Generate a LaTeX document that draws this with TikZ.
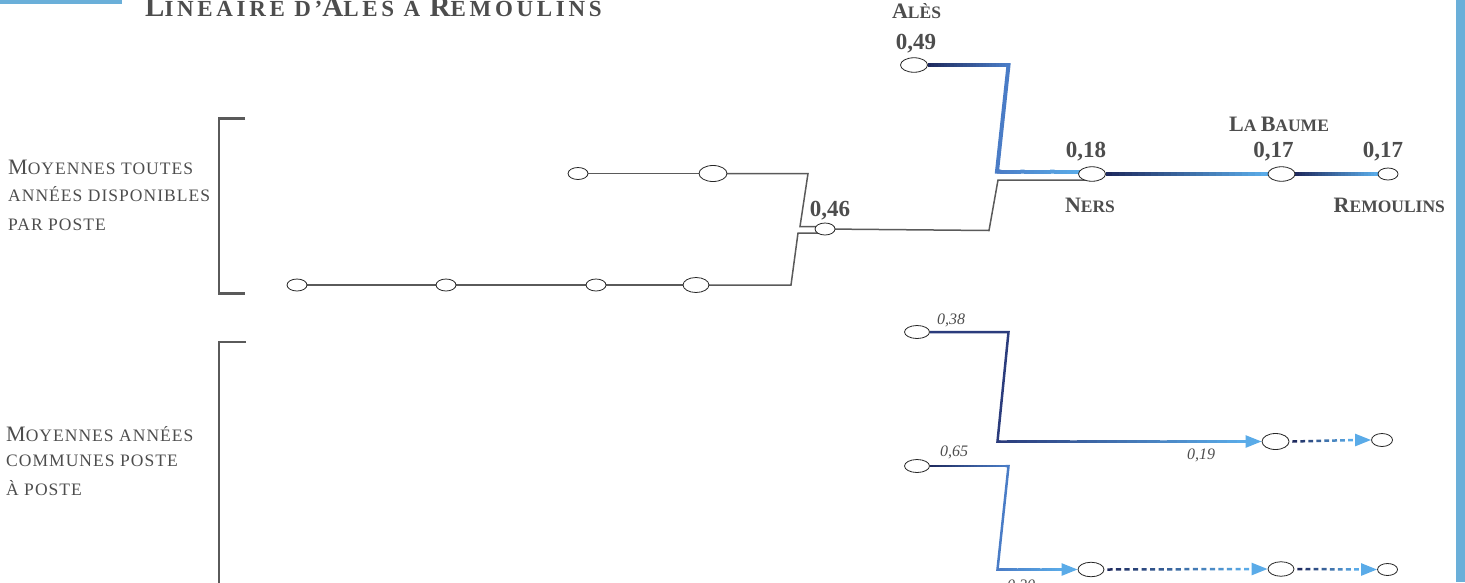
\documentclass[tikz,border=0pt]{standalone}
\usepackage{fontspec}
\usepackage{graphicx}
\setmainfont{Liberation Serif}
\newfontfamily\widefam[LetterSpace=6]{Liberation Serif}
\newfontfamily\titlefam[LetterSpace=16]{Liberation Serif}
\usetikzlibrary{shapes.geometric,calc,arrows.meta}
\definecolor{navy}{HTML}{1E2A5E}
\definecolor{navyb}{HTML}{2B3C7C}
\definecolor{midb}{HTML}{4A7CC6}
\definecolor{lightb}{HTML}{5AABE8}
\definecolor{barb}{HTML}{6AAFD9}
\definecolor{txt}{HTML}{4D4D4D}
\definecolor{lnk}{HTML}{5A5A5A}
\pgfdeclarelayer{bg}\pgfsetlayers{bg,main}
% fake small caps
\newcommand\Rsc[2]{{\widefam\fontsize{22}{24}\selectfont #1\fontsize{17.5}{20}\selectfont #2}}
\newcommand\Bsc[2]{{\bfseries\fontsize{22}{24}\selectfont #1\fontsize{17.5}{20}\selectfont #2}}
\newcommand\Tsc[2]{{\titlefam\bfseries\fontsize{29}{31}\selectfont #1\fontsize{23}{25}\selectfont #2}}
% gradient solid line
\newcommand\gline[5]{%
  \foreach \i in {0,...,24}{%
    \pgfmathsetmacro\ta{\i/25}%
    \pgfmathsetmacro\tb{min(1,(\i+1.3)/25)}%
    \pgfmathtruncatemacro\pc{100-\i*100/24}%
    \draw[line width=#5,#3!\pc!#4] ($(#1)!\ta!(#2)$) -- ($(#1)!\tb!(#2)$);
  }}
% gradient dashed line with arrow
\newcommand\gdash[5]{%
  \coordinate (gdA) at ($(#1)+(3,0)$);
  \coordinate (gdB) at ($(#2)+(-15,0)$);
  \foreach \i in {1,...,#5}{%
    \pgfmathsetmacro\ta{(\i-1)/#5}%
    \pgfmathsetmacro\tb{(\i-0.4)/#5}%
    \pgfmathtruncatemacro\pc{100-(\i-1)*100/(#5-1)}%
    \draw[line width=2.5pt,#3!\pc!#4] ($(gdA)!\ta!(gdB)$) -- ($(gdA)!\tb!(gdB)$);
  }
  \draw[#4,line width=2.5pt,-{Triangle[length=16pt,width=12pt]}] ($(gdB)+(-1,0)$) -- (#2);}
\begin{document}
\begin{tikzpicture}[x=1pt,y=-1pt,
  ov/.style={ellipse,draw=black!85,line width=0.8pt,fill=white,inner sep=0pt,minimum width=27pt,minimum height=14.5pt},
  ovs/.style={ov,minimum width=20pt,minimum height=12pt},
  glink/.style={draw=lnk,line width=1.5pt},
  brk/.style={draw=lnk,line width=2.5pt},
  lbl/.style={anchor=base west,text=txt,inner sep=0pt},
  num/.style={anchor=base,text=txt,inner sep=0pt,font=\fontsize{23}{25}\selectfont\bfseries},
  inum/.style={anchor=base west,text=txt,inner sep=0pt,font=\fontsize{16}{18}\selectfont\itshape},
  stn/.style={anchor=base,text=txt,inner sep=0pt},
  bluel/.style={line width=4pt,line join=miter}
]
\useasboundingbox (0,0) rectangle (1465,582);
% bars
\fill[barb] (0,0) rectangle (122,3.5);
\fill[barb] (1455.5,0) rectangle (1465,582);
% title
\node[anchor=base west,text=txt,inner sep=0pt] (title) at (145,16) {\Tsc{L}{INÉAIRE D’}\Tsc{A}{LÈS À }\Tsc{R}{EMOULINS}};
% brackets
\draw[brk] (245,118.5) -- (219,118.5) -- (219,293.5) -- (245,293.5);
\draw[brk] (246,342) -- (219,342) -- (219,595);
% left labels
\node[lbl] (m1) at (8,174) {\Rsc{M}{OYENNES TOUTES}};
\node[lbl] (m2) at (8,201.5) {\Rsc{}{ANNÉES DISPONIBLES}};
\node[lbl] (m3) at (8,230) {\Rsc{}{PAR POSTE}};
\node[lbl] (m4) at (6,441) {\Rsc{M}{OYENNES ANNÉES}};
\node[lbl] (m5) at (6,466.7) {\Rsc{}{COMMUNES POSTE}};
\node[lbl] (m6) at (6,495) {\Rsc{}{À POSTE}};
% top nodes
\node[ovs] (u1) at (578,173.5) {};
\node[ov,minimum width=28pt,minimum height=16pt] (u2) at (713,173.5) {};
\node[ovs] (l1) at (297,285) {};
\node[ovs] (l2) at (446,285) {};
\node[ovs] (l3) at (596,285) {};
\node[ov,minimum width=26pt,minimum height=15pt] (l4) at (696,285) {};
\node[ovs] (j) at (825,229) {};
\node[ov] (ales) at (914,65) {};
\node[ov] (ners) at (1092,174) {};
\node[ov] (lb) at (1281.5,174) {};
\node[ovs] (rem) at (1388,174) {};
% bottom nodes
\node[ov,minimum width=25pt,minimum height=13pt] (A) at (917,332) {};
\node[ov,minimum height=16pt] (B) at (1275.5,441.5) {};
\node[ovs,minimum width=21pt,minimum height=13pt] (C) at (1382,440) {};
\node[ov,minimum width=25pt,minimum height=13pt] (D) at (917,466) {};
\node[ov,minimum width=26pt] (E) at (1091,569.5) {};
\node[ov,minimum width=26pt] (F) at (1281,569) {};
\node[ovs] (G) at (1387.5,569.5) {};
% labels
\node[stn] (tales) at (916.5,18.3) {\Bsc{A}{LÈS}};
\node[num] (t049) at (916,49.3) {0,49};
\node[num] (t018) at (1086,157.3) {0,18};
\node[stn] (tners) at (1090,212.7) {\Bsc{N}{ERS}};
\node[stn] (tlb) at (1279,131) {\Bsc{L}{A }\Bsc{B}{AUME}};
\node[num] (t017a) at (1273.5,157.3) {0,17};
\node[num] (t017b) at (1383,157.3) {0,17};
\node[stn] (trem) at (1389.3,212.7) {\Bsc{R}{EMOULINS}};
\node[num] (t046) at (830,216.7) {0,46};
\node[inum] (t038) at (937,324) {0,38};
\node[inum] (t019) at (1187,459) {0,19};
\node[inum] (t065) at (940,456.5) {0,65};
\node[inum] (t020) at (1007,590) {0,20};
\begin{pgfonlayer}{bg}
% gray network
\coordinate (c1) at (808,173.5);
\coordinate (c2) at (800,226.5);
\draw[glink] (u1) -- (u2);
\draw[glink] (u2.center) -- (c1) -- (c2) -- (c2 -| j.center);
\draw[glink] (l1) -- (l2) -- (l3) -- (l4);
\coordinate (c3) at (791,285);
\coordinate (c4) at (798,233);
\draw[glink] (l4.center) -- (c3) -- (c4) -- (c4 -| j.center);
\coordinate (c5) at (989,230.5);
\coordinate (c6) at (998,180);
\draw[glink] (j.center) -- (c5) -- (c6) -- (c6 -| ners.center);
% thick blue line
\coordinate (b1) at (1008.5,65);
\coordinate (b2) at (997,171.5);
\coordinate (b3) at ($(b2 -| ners.west)+(2,0)$);
\gline{ales.east}{b1}{navy}{midb}{4pt}
\draw[midb,bluel] ($(b1)+(-2,0)$) -- (b1) -- (b2) -- ($(b2)+(3,0)$);
\gline{b2}{b3}{midb}{lightb}{4pt}
\gline{ners.east}{lb.west}{navy}{lightb}{4pt}
\gline{lb.east}{rem.west}{navy}{lightb}{4pt}
% lower path 1
\coordinate (p1) at (1008.5,332);
\coordinate (p2) at (997.5,441.5);
\coordinate (p3) at ($(B.west)+(-15,0)$);
\draw[navyb,line width=2.5pt,line join=miter] (A.east) -- (p1) -- (p2) -- ($(p2)+(3,0)$);
\gline{p2}{p3}{navyb}{lightb}{2.5pt}
\draw[lightb,line width=2.5pt,-{Triangle[length=16pt,width=12pt]}] ($(p3)+(-1,0)$) -- (B.west);
\gdash{B.east}{C.west}{navy}{lightb}{8}
% lower path 2
\coordinate (p4) at (1008.5,466);
\coordinate (p5) at (997.5,569.5);
\coordinate (p6) at ($(E.west)+(-15,0)$);
\gline{D.east}{p4}{navy}{midb}{2.5pt}
\draw[midb,line width=2.5pt,line join=miter] ($(p4)+(-3,0)$) -- (p4) -- (p5) -- ($(p5)+(3,0)$);
\gline{p5}{p6}{midb}{lightb}{2.5pt}
\draw[lightb,line width=2.5pt,-{Triangle[length=16pt,width=12pt]}] ($(p6)+(-1,0)$) -- (E.west);
\gdash{E.east}{F.west}{navy}{lightb}{17}
\gdash{F.east}{G.west}{navy}{lightb}{8}
\end{pgfonlayer}
\end{tikzpicture}
\end{document}
